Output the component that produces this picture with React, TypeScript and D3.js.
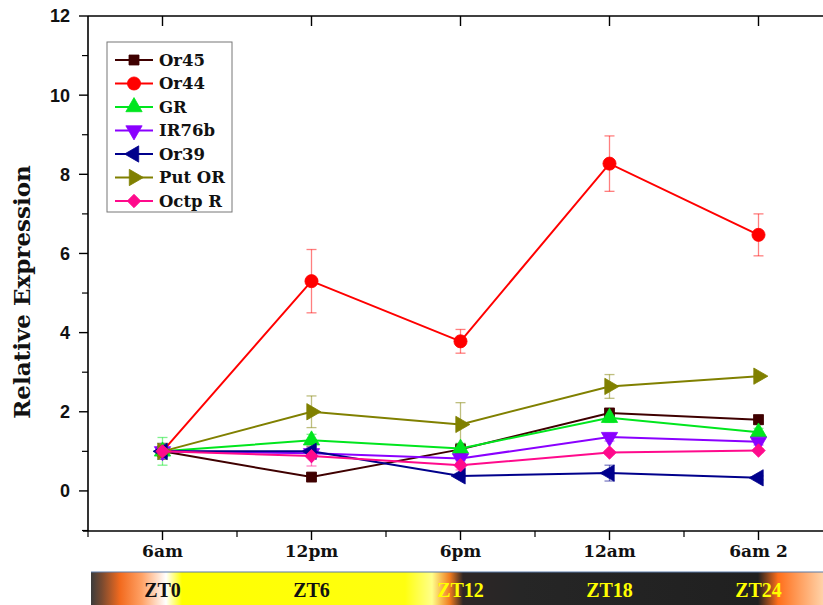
import React from "react";
import * as d3 from "d3";

const timeLabels = ["6am", "12pm", "6pm", "12am", "6am 2"];
const ztLabels = ["ZT0", "ZT6", "ZT12", "ZT18", "ZT24"];
const ztColors = ["#111111", "#111111", "#ffff00", "#ffff00", "#ffff00"];

const seriesNames = ["Or45", "Or44", "GR", "IR76b", "Or39", "Put OR", "Octp R"];
const seriesColors = ["#3f0000", "#ff0000", "#00e61e", "#8a00ff", "#00008c", "#808000", "#ff0a8c"];
const seriesShapes = ["square", "circle", "up", "down", "left", "right", "diamond"];

const or45 = [1.0, 0.35, 1.05, 1.97, 1.8];
const or44 = [1.0, 5.3, 3.78, 8.27, 6.47];
const gr = [1.0, 1.28, 1.07, 1.85, 1.48];
const ir76b = [1.0, 0.95, 0.82, 1.36, 1.24];
const or39 = [1.0, 1.0, 0.38, 0.45, 0.33];
const putOr = [1.0, 2.0, 1.68, 2.64, 2.9];
const octpR = [1.0, 0.88, 0.65, 0.97, 1.02];

const or45Err = [0.12, 0.08, 0.15, 0.1, 0.12];
const or44Err = [0.1, 0.8, 0.3, 0.7, 0.53];
const grErr = [0.35, 0.15, 0.12, 0.12, 0.1];
const ir76bErr = [0.15, 0.1, 0.1, 0.1, 0.08];
const or39Err = [0.2, 0.1, 0.05, 0.2, 0.05];
const putOrErr = [0.2, 0.4, 0.55, 0.3, 0.05];
const octpRErr = [0.15, 0.25, 0.12, 0.05, 0.05];

const seriesValues = [or45, or44, gr, ir76b, or39, putOr, octpR];
const seriesErrors = [or45Err, or44Err, grErr, ir76bErr, or39Err, putOrErr, octpRErr];

const yMajor = [0, 2, 4, 6, 8, 10, 12];
const yMinor = [-1, 1, 3, 5, 7, 9, 11];

const W = 823;
const H = 605;

const x = d3.scaleLinear().domain([-0.5, 4.5]).range([88, 833]);
const y = d3.scaleLinear().domain([-1, 12]).range([530.5, 16]);

function markerPath(shape: string) {
  if (shape === "square") return d3.symbol(d3.symbolSquare, 100)();
  if (shape === "circle") return d3.symbol(d3.symbolCircle, 135)();
  if (shape === "diamond") return d3.symbol(d3.symbolSquare, 90)();
  return d3.symbol(d3.symbolTriangle, 115)();
}

function markerRotate(shape: string) {
  if (shape === "down") return 180;
  if (shape === "left") return -90;
  if (shape === "right") return 90;
  if (shape === "diamond") return 45;
  return 0;
}

const Marker = ({ shape, color, cx, cy }: { shape: string; color: string; cx: number; cy: number }) => (
  <path
    d={markerPath(shape) || ""}
    transform={`translate(${cx},${cy}) rotate(${markerRotate(shape)})`}
    fill={color}
    stroke={color}
    strokeWidth={0.8}
  />
);

export default function App() {
  const line = d3
    .line<number>()
    .x((_, i) => x(i))
    .y((v) => y(v));

  const barX = 91;
  const barW = W - barX;
  const pct = (px: number) => `${((px - barX) / barW) * 100}%`;

  return (
    <svg
      width={W}
      height={H}
      style={{ position: "absolute", left: 0, top: 0, background: "#fff" }}
    >
      <defs>
        <linearGradient id="ztbar" x1="0" x2="1" y1="0" y2="0">
          <stop offset={pct(91)} stopColor="#3c3c3c" />
          <stop offset={pct(102)} stopColor="#7a4a30" />
          <stop offset={pct(120)} stopColor="#f26a1e" />
          <stop offset={pct(142)} stopColor="#ffa266" />
          <stop offset={pct(166)} stopColor="#ffffff" />
          <stop offset={pct(182)} stopColor="#ffff00" />
          <stop offset={pct(405)} stopColor="#ffff10" />
          <stop offset={pct(432)} stopColor="#ffff8a" />
          <stop offset={pct(450)} stopColor="#f07a1e" />
          <stop offset={pct(463)} stopColor="#2e2626" />
          <stop offset={pct(520)} stopColor="#262626" />
          <stop offset={pct(758)} stopColor="#202020" />
          <stop offset={pct(778)} stopColor="#ff6e1a" />
          <stop offset={pct(800)} stopColor="#ffa060" />
          <stop offset={pct(823)} stopColor="#ffd2a8" />
        </linearGradient>
      </defs>

      {/* day/night bar */}
      <rect x={barX} y={572} width={barW} height={40} fill="url(#ztbar)" />
      <line x1={barX} x2={W} y1={572} y2={572} stroke="#5a7aa8" strokeWidth={1.2} />
      {ztLabels.map((t, i) => (
        <text
          key={t}
          x={x(i)}
          y={597}
          textAnchor="middle"
          fontFamily="Liberation Serif"
          fontWeight="bold"
          fontSize={20}
          fill={ztColors[i]}
        >
          {t}
        </text>
      ))}

      {/* frame */}
      <line x1={88} x2={88} y1={16} y2={531} stroke="#000" strokeWidth={1.6} />
      <line x1={83} x2={W} y1={531} y2={531} stroke="#000" strokeWidth={1.6} />
      <line x1={88} x2={W} y1={16} y2={16} stroke="#000" strokeWidth={1.6} />

      {/* y axis */}
      {yMajor.map((v) => (
        <g key={"ym" + v}>
          <line x1={79} x2={88} y1={y(v)} y2={y(v)} stroke="#000" strokeWidth={1.4} />
          <text
            x={70}
            y={y(v)}
            dy="0.36em"
            textAnchor="end"
            fontFamily="Liberation Sans"
            fontWeight="bold"
            fontSize={18}
            fill="#111"
          >
            {v}
          </text>
        </g>
      ))}
      {yMinor.map((v) => (
        <line key={"yn" + v} x1={82} x2={88} y1={y(v)} y2={y(v)} stroke="#000" strokeWidth={1.2} />
      ))}
      <text
        transform={`translate(30,292) rotate(-90)`}
        textAnchor="middle"
        fontFamily="DejaVu Serif"
        fontWeight="bold"
        fontSize={23}
        fill="#111"
      >
        Relative Expression
      </text>

      {/* x axis */}
      {timeLabels.map((t, i) => (
        <g key={t}>
          <line x1={x(i)} x2={x(i)} y1={531} y2={540} stroke="#000" strokeWidth={1.4} />
          <line x1={x(i)} x2={x(i)} y1={16} y2={26} stroke="#000" strokeWidth={1.4} />
          <text
            x={x(i)}
            y={557}
            textAnchor="middle"
            fontFamily="DejaVu Serif"
            fontWeight="bold"
            fontSize={17}
            fill="#111"
          >
            {t}
          </text>
        </g>
      ))}
      {[-0.5, 0.5, 1.5, 2.5, 3.5].map((v) => (
        <line key={"xn" + v} x1={x(v)} x2={x(v)} y1={531} y2={537} stroke="#000" strokeWidth={1.2} />
      ))}

      {/* error bars */}
      {seriesValues.map((vals, s) => (
        <g key={"err" + s} stroke={seriesColors[s]} strokeOpacity={0.5} strokeWidth={1.3}>
          {vals.map((v, i) => {
            const e = seriesErrors[s][i];
            const cx = x(i);
            return (
              <g key={i}>
                <line x1={cx} x2={cx} y1={y(v + e)} y2={y(v - e)} />
                <line x1={cx - 5} x2={cx + 5} y1={y(v + e)} y2={y(v + e)} />
                <line x1={cx - 5} x2={cx + 5} y1={y(v - e)} y2={y(v - e)} />
              </g>
            );
          })}
        </g>
      ))}

      {/* series */}
      {seriesValues.map((vals, s) => (
        <g key={"s" + s}>
          <path d={line(vals) || ""} fill="none" stroke={seriesColors[s]} strokeWidth={2} />
          {vals.map((v, i) => (
            <Marker key={i} shape={seriesShapes[s]} color={seriesColors[s]} cx={x(i)} cy={y(v)} />
          ))}
        </g>
      ))}

      {/* legend */}
      <rect x={107} y={42} width={125} height={170} fill="#fff" stroke="#777" strokeWidth={1} />
      {seriesNames.map((n, i) => {
        const ly = 60 + i * 23.5;
        return (
          <g key={n}>
            <line x1={115} x2={153} y1={ly} y2={ly} stroke={seriesColors[i]} strokeWidth={2} />
            <Marker shape={seriesShapes[i]} color={seriesColors[i]} cx={134} cy={ly} />
            <text
              x={159}
              y={ly}
              dy="0.36em"
              fontFamily="DejaVu Serif"
              fontWeight="bold"
              fontSize={16.5}
              fill="#111"
            >
              {n}
            </text>
          </g>
        );
      })}
    </svg>
  );
}
